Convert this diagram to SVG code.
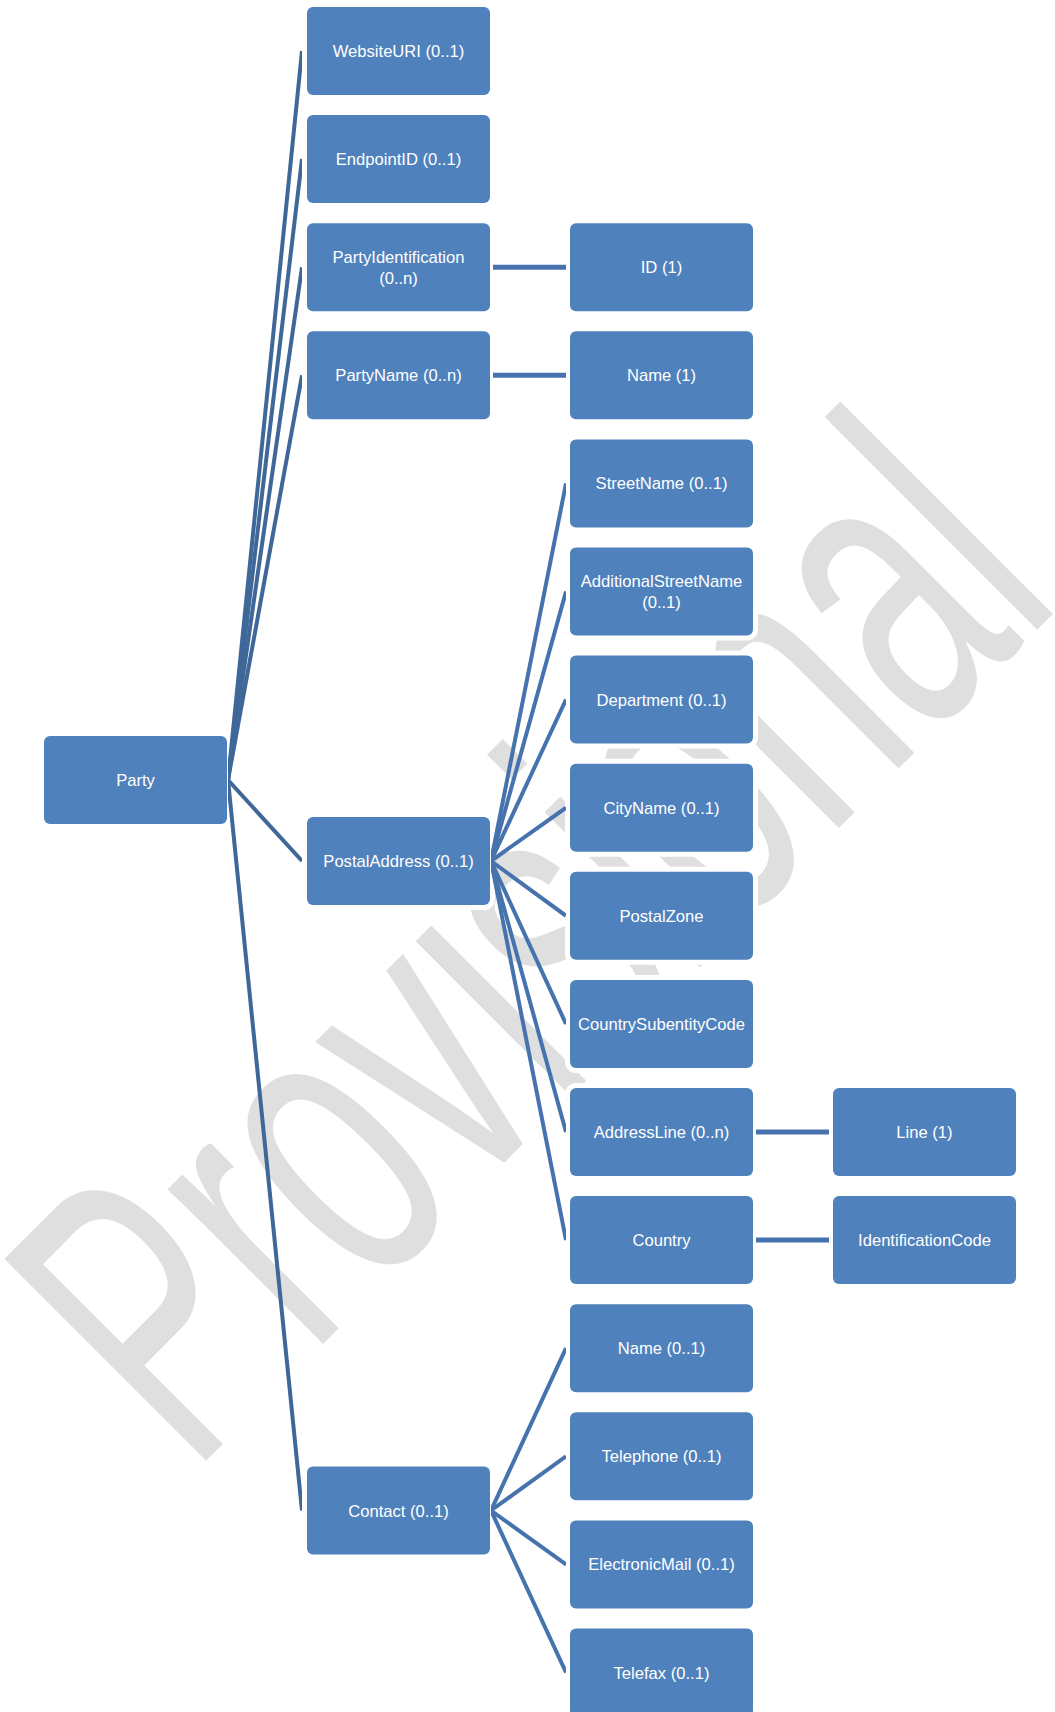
<svg xmlns="http://www.w3.org/2000/svg" width="1055" height="1712" viewBox="0 0 1055 1712">
<defs>
<style>
.box{fill:#4F81BD;stroke:#FFFFFF;stroke-width:10;paint-order:stroke fill;}
.lbl{font-family:"Liberation Sans",Arial,sans-serif;font-size:16.6px;fill:#FFFFFF;text-anchor:middle;}
.c0{stroke:#3F6899;stroke-width:4;fill:none;}
.c1{stroke:#4673AD;stroke-width:4;fill:none;}
.h{stroke:#4673AD;stroke-width:5;fill:none;}
.wm{font-family:"Liberation Sans",Arial,sans-serif;font-size:415px;fill:#DFDFDF;}
</style>
<clipPath id="clipA"><rect x="228" y="0" width="74" height="1712"/></clipPath>
<clipPath id="clipB"><rect x="491" y="0" width="75" height="1712"/></clipPath>
</defs>
<rect x="0" y="0" width="1055" height="1712" fill="#FFFFFF"/>
<text class="wm" transform="translate(191.6,1475.4) rotate(-45)" textLength="1235" lengthAdjust="spacingAndGlyphs">Provisional</text>

<g id="party"><rect class="box" x="44" y="736" width="183" height="88" rx="6"/><text class="lbl" x="135.5" y="786">Party</text></g>
<g id="websiteuri"><rect class="box" x="307" y="7" width="183" height="88" rx="6"/><text class="lbl" x="398.5" y="57">WebsiteURI (0..1)</text></g>
<g id="endpointid"><rect class="box" x="307" y="115.1" width="183" height="88" rx="6"/><text class="lbl" x="398.5" y="165.1">EndpointID (0..1)</text></g>
<g id="partyidentification"><rect class="box" x="307" y="223.2" width="183" height="88" rx="6"/><text class="lbl" x="398.5" y="262.9">PartyIdentification</text><text class="lbl" x="398.5" y="283.5">(0..n)</text></g>
<g id="partyname"><rect class="box" x="307" y="331.3" width="183" height="88" rx="6"/><text class="lbl" x="398.5" y="381.3">PartyName (0..n)</text></g>
<g id="postaladdress"><rect class="box" x="307" y="817" width="183" height="88" rx="6"/><text class="lbl" x="398.5" y="867">PostalAddress (0..1)</text></g>
<g id="contact"><rect class="box" x="307" y="1466.5" width="183" height="88" rx="6"/><text class="lbl" x="398.5" y="1516.5">Contact (0..1)</text></g>

<g id="id"><rect class="box" x="570" y="223.2" width="183" height="88" rx="6"/><text class="lbl" x="661.5" y="273.2">ID (1)</text></g>
<g id="name1"><rect class="box" x="570" y="331.3" width="183" height="88" rx="6"/><text class="lbl" x="661.5" y="381.3">Name (1)</text></g>
<g id="streetname"><rect class="box" x="570" y="439.4" width="183" height="88" rx="6"/><text class="lbl" x="661.5" y="489.4">StreetName (0..1)</text></g>
<g id="additionalstreetname"><rect class="box" x="570" y="547.5" width="183" height="88" rx="6"/><text class="lbl" x="661.5" y="587.2">AdditionalStreetName</text><text class="lbl" x="661.5" y="607.8">(0..1)</text></g>
<g id="department"><rect class="box" x="570" y="655.6" width="183" height="88" rx="6"/><text class="lbl" x="661.5" y="705.6">Department (0..1)</text></g>
<g id="cityname"><rect class="box" x="570" y="763.7" width="183" height="88" rx="6"/><text class="lbl" x="661.5" y="813.7">CityName (0..1)</text></g>
<g id="postalzone"><rect class="box" x="570" y="871.8" width="183" height="88" rx="6"/><text class="lbl" x="661.5" y="921.8">PostalZone</text></g>
<g id="countrysubentitycode"><rect class="box" x="570" y="979.9" width="183" height="88" rx="6"/><text class="lbl" x="661.5" y="1029.9">CountrySubentityCode</text></g>
<g id="addressline"><rect class="box" x="570" y="1088" width="183" height="88" rx="6"/><text class="lbl" x="661.5" y="1138">AddressLine (0..n)</text></g>
<g id="country"><rect class="box" x="570" y="1196.1" width="183" height="88" rx="6"/><text class="lbl" x="661.5" y="1246.1">Country</text></g>
<g id="contactname"><rect class="box" x="570" y="1304.2" width="183" height="88" rx="6"/><text class="lbl" x="661.5" y="1354.2">Name (0..1)</text></g>
<g id="telephone"><rect class="box" x="570" y="1412.3" width="183" height="88" rx="6"/><text class="lbl" x="661.5" y="1462.3">Telephone (0..1)</text></g>
<g id="electronicmail"><rect class="box" x="570" y="1520.4" width="183" height="88" rx="6"/><text class="lbl" x="661.5" y="1570.4">ElectronicMail (0..1)</text></g>
<g id="telefax"><rect class="box" x="570" y="1628.5" width="183" height="88" rx="6"/><text class="lbl" x="661.5" y="1678.5">Telefax (0..1)</text></g>

<g id="line"><rect class="box" x="833" y="1088" width="183" height="88" rx="6"/><text class="lbl" x="924.5" y="1138">Line (1)</text></g>
<g id="identificationcode"><rect class="box" x="833" y="1196.1" width="183" height="88" rx="6"/><text class="lbl" x="924.5" y="1246.1">IdentificationCode</text></g>

<g id="connectors">
<g clip-path="url(#clipA)">
<line class="c0" x1="228" y1="780" x2="302" y2="51"/>
<line class="c0" x1="228" y1="780" x2="302" y2="159.1"/>
<line class="c0" x1="228" y1="780" x2="302" y2="267.2"/>
<line class="c0" x1="228" y1="780" x2="302" y2="375.3"/>
<line class="c0" x1="228" y1="780" x2="302" y2="861"/>
<line class="c0" x1="228" y1="780" x2="302" y2="1510.5"/>
</g>
<g clip-path="url(#clipB)">
<line class="c1" x1="491" y1="861" x2="566" y2="483.4"/>
<line class="c1" x1="491" y1="861" x2="566" y2="591.5"/>
<line class="c1" x1="491" y1="861" x2="566" y2="699.6"/>
<line class="c1" x1="491" y1="861" x2="566" y2="807.7"/>
<line class="c1" x1="491" y1="861" x2="566" y2="915.8"/>
<line class="c1" x1="491" y1="861" x2="566" y2="1023.9"/>
<line class="c1" x1="491" y1="861" x2="566" y2="1132"/>
<line class="c1" x1="491" y1="861" x2="566" y2="1240.1"/>
<line class="c1" x1="491" y1="1510.5" x2="566" y2="1348.2"/>
<line class="c1" x1="491" y1="1510.5" x2="566" y2="1456.3"/>
<line class="c1" x1="491" y1="1510.5" x2="566" y2="1564.4"/>
<line class="c1" x1="491" y1="1510.5" x2="566" y2="1672.5"/>
</g>
<line class="h" x1="493" y1="267.2" x2="566" y2="267.2"/>
<line class="h" x1="493" y1="375.3" x2="566" y2="375.3"/>
<line class="h" x1="756" y1="1132" x2="829" y2="1132"/>
<line class="h" x1="756" y1="1240.1" x2="829" y2="1240.1"/>
</g>
</svg>
